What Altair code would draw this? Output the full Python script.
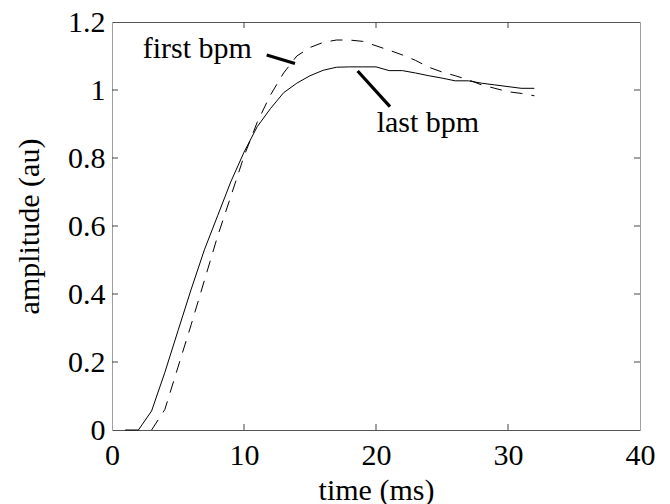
import altair as alt
import pandas as pd

# ---- data ----
time_last = list(range(1, 33))
amp_last = [0, 0, 0.056, 0.169, 0.292, 0.414, 0.53, 0.63, 0.73, 0.817,
            0.892, 0.945, 0.992, 1.02, 1.042, 1.058, 1.067, 1.068, 1.068, 1.068,
            1.057, 1.057, 1.05, 1.042, 1.035, 1.027, 1.027, 1.02, 1.015, 1.01,
            1.005, 1.005]

time_first = list(range(3, 33))
amp_first = [0, 0.06, 0.185, 0.31, 0.44, 0.57, 0.687, 0.805, 0.905, 0.985,
             1.05, 1.1, 1.125, 1.14, 1.147, 1.147, 1.143, 1.13, 1.117, 1.103,
             1.087, 1.067, 1.053, 1.042, 1.03, 1.015, 1.005, 0.995, 0.99, 0.983]

label_text = ["first bpm", "last bpm"]
label_x = [2.33, 20.05]
label_y = [1.093, 0.877]

leader_x = [11.72, 18.61]
leader_y = [1.103, 1.056]
leader_x2 = [13.86, 21.06]
leader_y2 = [1.078, 0.951]

x_ticks = [0, 10, 20, 30, 40]
y_ticks = [0, 0.2, 0.4, 0.6, 0.8, 1.0, 1.2]
x_inner_ticks = [10, 20, 30]
y_inner_ticks = [0.2, 0.4, 0.6, 0.8, 1.0]

W, H = 528, 408
FONT = "Liberation Serif"
FS = 30
TICK = 6

df_last = pd.DataFrame({"t": time_last, "a": amp_last})
df_first = pd.DataFrame({"t": time_first, "a": amp_first})
df_lab = pd.DataFrame({"text": label_text, "x": label_x, "y": label_y})
df_lead = pd.DataFrame({"x": leader_x, "y": leader_y, "x2": leader_x2, "y2": leader_y2})
df_xt = pd.DataFrame({"v": x_inner_ticks})
df_yt = pd.DataFrame({"v": y_inner_ticks})

xs = alt.Scale(domain=[0, 40], nice=False, zero=False)
ys = alt.Scale(domain=[0, 1.2], nice=False, zero=False)

solid = alt.Chart(df_last).mark_line(color="black", strokeWidth=1).encode(
    x=alt.X("t:Q", scale=xs, axis=alt.Axis(
        values=x_ticks, title="time (ms)", ticks=False, labelPadding=10,
        labelFlush=False, titleBaseline="alphabetic", titleY=69,
        domainColor="#555", grid=False)),
    y=alt.Y("a:Q", scale=ys, axis=alt.Axis(
        values=y_ticks, format="~g", title="amplitude (au)", ticks=False,
        labelPadding=7, labelFlush=False, titleBaseline="alphabetic", titleX=-74,
        domainColor="#a0a0a0", grid=False)),
)

dashed = alt.Chart(df_first).mark_line(color="black", strokeWidth=1, strokeDash=[12, 9]).encode(
    x=alt.X("t:Q", scale=xs, axis=alt.Axis(
        orient="top", labels=False, ticks=False, title=None,
        domainColor="#555", grid=False)),
    y=alt.Y("a:Q", scale=ys, axis=alt.Axis(
        orient="right", labels=False, ticks=False, title=None,
        domainColor="#a0a0a0", grid=False)),
)

leaders = alt.Chart(df_lead).mark_rule(color="black", strokeWidth=3.2).encode(
    x=alt.X("x:Q", scale=xs, axis=None),
    y=alt.Y("y:Q", scale=ys, axis=None),
    x2="x2:Q",
    y2="y2:Q",
)

labels = alt.Chart(df_lab).mark_text(
    align="left", baseline="alphabetic", font=FONT, fontSize=FS, color="black"
).encode(
    x=alt.X("x:Q", scale=xs, axis=None),
    y=alt.Y("y:Q", scale=ys, axis=None),
    text="text:N",
)

xt_bottom = alt.Chart(df_xt).mark_rule(color="#444").encode(
    x=alt.X("v:Q", scale=xs, axis=None), y=alt.value(H), y2=alt.value(H - TICK))
xt_top = alt.Chart(df_xt).mark_rule(color="#444").encode(
    x=alt.X("v:Q", scale=xs, axis=None), y=alt.value(0), y2=alt.value(TICK))
yt_left = alt.Chart(df_yt).mark_rule(color="#444").encode(
    y=alt.Y("v:Q", scale=ys, axis=None), x=alt.value(0), x2=alt.value(TICK))
yt_right = alt.Chart(df_yt).mark_rule(color="#444").encode(
    y=alt.Y("v:Q", scale=ys, axis=None), x=alt.value(W), x2=alt.value(W - TICK))

chart = alt.layer(
    solid, dashed, leaders, labels, xt_bottom, xt_top, yt_left, yt_right
).resolve_axis(
    x="independent", y="independent"
).properties(
    width=W, height=H,
    autosize=alt.AutoSizeParams(type="none"),
    padding={"left": 104, "top": 14, "right": 18, "bottom": 74},
    background="white",
).configure_view(
    stroke=None
).configure_axis(
    labelFont=FONT, labelFontSize=FS, labelColor="black",
    titleFont=FONT, titleFontSize=FS, titleColor="black",
    titleFontWeight="normal", domainWidth=1,
)

chart.save("out.html", embed_options={"renderer": "svg", "actions": False})
